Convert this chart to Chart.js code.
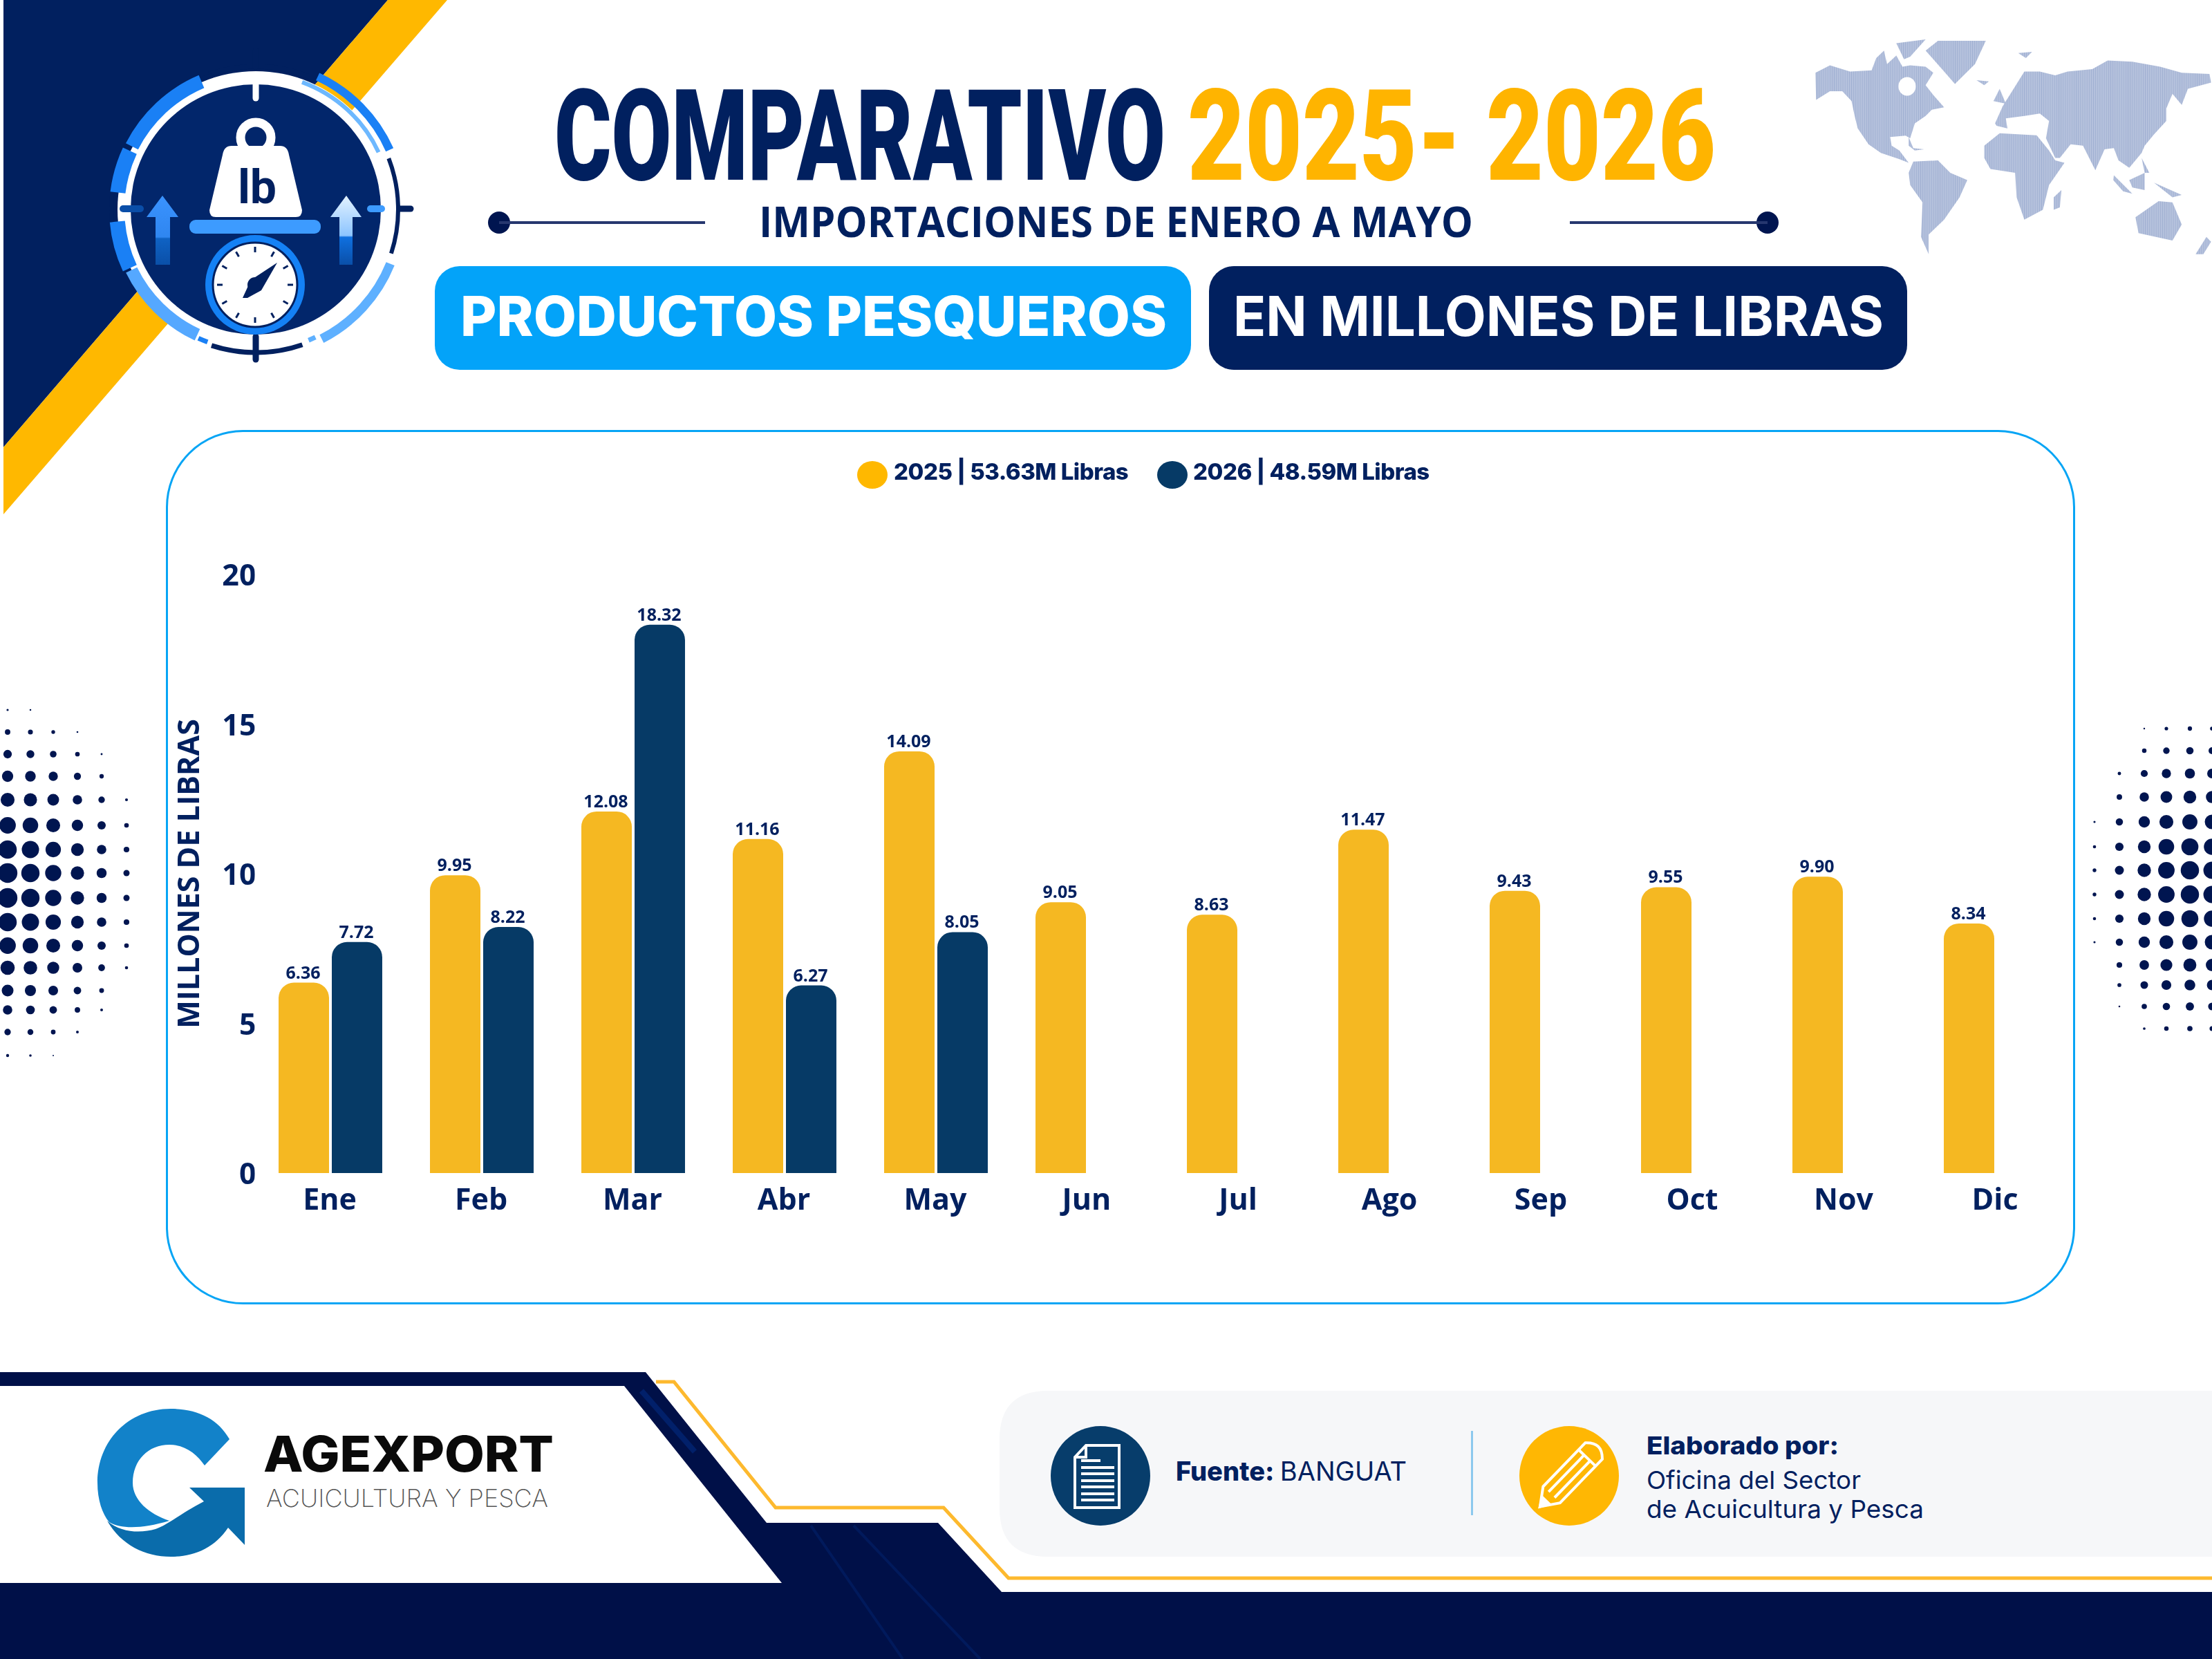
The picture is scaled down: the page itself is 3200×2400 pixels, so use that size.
<!DOCTYPE html>
<html>
<head>
<meta charset="utf-8">
<script src="https://cdn.jsdelivr.net/npm/chart.js@4"></script>
<style>
  html, body { margin: 0; padding: 0; background: #fff; }
  #page { position: relative; width: 3200px; height: 2400px; overflow: hidden; background: #fff; }
  #deco { position: absolute; left: 0; top: 0; }
  #grafica { position: absolute; left: 241px; top: 623px; }
</style>
</head>
<body>
<div id="page">
<svg id="deco" width="3200" height="2400" viewBox="0 0 3200 2400" xmlns="http://www.w3.org/2000/svg">
  <defs>
    <pattern id="rayas" width="7" height="10" patternUnits="userSpaceOnUse">
      <rect width="7" height="10" fill="#b6c2dd"/>
      <rect width="2" height="10" fill="#9fafd1"/>
    </pattern>
    <filter id="suave"><feGaussianBlur stdDeviation="1"/></filter>
    <linearGradient id="flechaIzq" x1="0" y1="0" x2="0" y2="1">
      <stop offset="0" stop-color="#3a93ff"/><stop offset=".6" stop-color="#2f86f0"/><stop offset=".62" stop-color="#0f62c4"/><stop offset="1" stop-color="#0a4fa8"/>
    </linearGradient>
    <linearGradient id="flechaDer" x1="0" y1="0" x2="0" y2="1">
      <stop offset="0" stop-color="#e3f2ff"/><stop offset=".58" stop-color="#8cc4ff"/><stop offset=".6" stop-color="#0f70e0"/><stop offset="1" stop-color="#0a4fa8"/>
    </linearGradient>
  </defs>

  <!-- esquina superior -->
  <polygon points="5,0 561,0 5,647" fill="#01205f"/>
  <polygon points="561,0 647,0 5,744 5,647" fill="#ffb800"/>

  <!-- emblema -->
  <g id="emblema"></g>

  <!-- titulo -->
  <text x="802" y="260" font-family="Roboto" font-weight="900" font-size="184" fill="#01205f" textLength="884" lengthAdjust="spacingAndGlyphs">COMPARATIVO</text>
  <text x="1718" y="260" font-family="Roboto" font-weight="900" font-size="184" fill="#ffb400" textLength="764" lengthAdjust="spacingAndGlyphs">2025- 2026</text>
  <text x="1098" y="343" font-family="Open Sans" font-weight="700" font-size="60" fill="#01205f" textLength="1033" lengthAdjust="spacingAndGlyphs">IMPORTACIONES DE ENERO A MAYO</text>
  <circle cx="722" cy="322" r="16" fill="#001550"/>
  <rect x="722" y="320" width="298" height="4" fill="#26376f"/>
  <circle cx="2557" cy="322" r="16" fill="#001550"/>
  <rect x="2271" y="320" width="286" height="4" fill="#26376f"/>

  <rect x="629" y="385" width="1094" height="150" rx="36" fill="#03a3f9"/>
  <text x="666" y="486" font-family="Inter" font-weight="800" font-size="80" fill="#fff" textLength="1022" lengthAdjust="spacingAndGlyphs">PRODUCTOS PESQUEROS</text>
  <rect x="1749" y="385" width="1010" height="150" rx="36" fill="#01205f"/>
  <text x="1784" y="486" font-family="Inter" font-weight="700" font-size="80" fill="#fff" textLength="941" lengthAdjust="spacingAndGlyphs">EN MILLONES DE LIBRAS</text>

  <!-- mapa -->
  <g transform="translate(2500,0) scale(.4464,.357)" fill="url(#rayas)" filter="url(#suave)">
    <polygon points="283,295 330,265 395,290 465,285 480,235 505,205 515,260 545,225 565,270 590,265 640,270 665,295 640,345 665,385 700,435 660,445 640,470 605,500 590,560 575,550 525,555 530,590 555,610 585,660 555,645 495,620 455,585 420,520 410,470 400,410 370,370 330,370 285,405"/>
    <polygon points="585,555 600,600 635,605 605,610 585,590"/>
    <polygon points="545,175 640,160 590,230 570,240"/>
    <polygon points="640,205 680,165 835,165 800,260 735,340 700,290"/>
    <polygon points="585,700 600,655 680,650 720,700 775,730 750,800 700,890 650,950 650,1030 625,960 630,820 590,750"/>
    <polygon points="830,590 880,540 1000,548 1040,610 1060,650 1090,660 1040,750 1020,850 960,890 935,800 930,700 850,685 830,640"/>
    <polygon points="865,500 890,430 930,350 960,290 1010,290 1060,305 1100,290 1180,280 1230,245 1310,250 1400,270 1470,295 1560,300 1565,335 1490,360 1470,425 1440,380 1420,440 1420,490 1380,545 1350,590 1340,620 1300,680 1265,650 1250,600 1220,605 1190,690 1150,590 1110,585 1075,640 1060,640 1030,560 1040,490 1010,460 960,470 900,480 905,520 870,510"/>
    <polygon points="1250,710 1310,785 1280,775 1248,730"/>
    <polygon points="1300,730 1350,700 1350,770 1310,760"/>
    <polygon points="1380,740 1470,790 1440,800"/>
    <polygon points="1320,880 1395,815 1440,820 1470,910 1440,975 1330,945"/>
    <polygon points="1515,1030 1550,960 1565,980 1540,1030"/>
    <polygon points="1340,640 1365,700 1350,700"/>
    <polygon points="860,410 880,360 900,420"/>
    <polygon points="805,325 845,330 830,345"/>
    <polygon points="940,215 985,210 965,235"/>
    <polygon points="1055,800 1080,770 1075,840 1055,850"/>
    <ellipse cx="580" cy="350" rx="28" ry="38" fill="#fff"/>
  </g>

  <g id="puntos" fill="#001550"></g>

  <!-- tarjeta -->
  <rect x="241.5" y="623.5" width="2759" height="1262" rx="110" fill="#fff" stroke="#07a5f5" stroke-width="3"/>

  <!-- pie -->
  <path d="M3200,2012 H1516 Q1446,2012 1446,2082 V2182 Q1446,2252 1516,2252 H3200 Z" fill="#f6f7f9"/>
  <polygon points="0,1985 934,1985 1109,2203 1357,2203 1449,2303 3200,2303 3200,2400 0,2400" fill="#001048"/>
  <polygon points="0,2005 903,2005 1131,2290 0,2290" fill="#fff"/>
  <line x1="928" y1="2012" x2="1005" y2="2100" stroke="#01206a" stroke-width="8"/>
  <line x1="1173" y1="2207" x2="1306" y2="2400" stroke="#011a5c" stroke-width="4"/>
  <line x1="1235" y1="2207" x2="1418" y2="2400" stroke="#011a5c" stroke-width="4"/>
  <polyline points="949,1999 975,1999 1122,2181 1365,2181 1459,2283 3200,2283" fill="none" stroke="#fdb92e" stroke-width="5"/>

  <!-- logo -->
  <path d="M332,2082 C315,2052 285,2038 247,2038 C185,2038 141,2085 141,2145 C141,2170 148,2190 158,2202 C175,2212 205,2212 245,2200 C215,2190 192,2170 192,2145 C192,2112 215,2090 245,2090 C268,2090 285,2104 296,2120 Z" fill="#1282c9"/>
  <path d="M274,2152 H354 V2235 L330,2210 C310,2240 280,2252 247,2252 C210,2252 175,2235 155,2200 C175,2218 205,2218 225,2212 C245,2205 260,2190 295,2172 Z" fill="#0a6cab"/>
  <text x="381" y="2129" font-family="Inter" font-weight="800" font-size="72" fill="#0a0a0a" textLength="420" lengthAdjust="spacingAndGlyphs">AGEXPORT</text>
  <text x="385" y="2180" font-family="Inter" font-weight="200" font-size="35" fill="#555" textLength="408" lengthAdjust="spacingAndGlyphs">ACUICULTURA Y PESCA</text>

  <!-- fuente -->
  <circle cx="1592" cy="2135" r="72" fill="#073d6b"/>
  <path d="M1571,2091 H1619 V2181 H1555 V2108 Z M1571,2091 V2108 H1555" fill="none" stroke="#fff" stroke-width="4"/>
  <g stroke="#fff" stroke-width="4">
    <line x1="1564" y1="2113" x2="1592" y2="2113"/><line x1="1564" y1="2123" x2="1612" y2="2123"/>
    <line x1="1564" y1="2132" x2="1612" y2="2132"/><line x1="1564" y1="2142" x2="1612" y2="2142"/>
    <line x1="1564" y1="2151" x2="1612" y2="2151"/><line x1="1564" y1="2161" x2="1612" y2="2161"/>
    <line x1="1564" y1="2170" x2="1612" y2="2170"/>
  </g>
  <text x="1701" y="2142" font-family="Inter" font-size="38" fill="#01205f" textLength="334" lengthAdjust="spacingAndGlyphs"><tspan font-weight="800">Fuente: </tspan><tspan font-weight="400">BANGUAT</tspan></text>
  <rect x="2128" y="2070" width="3" height="122" fill="#8cc9ee"/>
  <circle cx="2270" cy="2135" r="72" fill="#ffb703"/>
  <g transform="translate(2271,2135) rotate(44)" fill="none" stroke="#fff" stroke-width="4">
    <path d="M-17,-50 Q0,-68 17,-50 V38 L0,62 L-17,38 Z"/>
    <line x1="-17" y1="-36" x2="17" y2="-36"/><line x1="-6" y1="-36" x2="-6" y2="38"/><line x1="6" y1="-36" x2="6" y2="38"/>
    <path d="M-7,50 L0,62 L7,50 Z" fill="#fff"/>
  </g>
  <text x="2382" y="2104" font-family="Inter" font-weight="800" font-size="36" fill="#01205f" textLength="278" lengthAdjust="spacingAndGlyphs">Elaborado por:</text>
  <text x="2382" y="2154" font-family="Inter" font-weight="400" font-size="36" fill="#01205f" textLength="310" lengthAdjust="spacingAndGlyphs">Oficina del Sector</text>
  <text x="2382" y="2196" font-family="Inter" font-weight="400" font-size="36" fill="#01205f" textLength="401" lengthAdjust="spacingAndGlyphs">de Acuicultura y Pesca</text>
</svg>
<canvas id="grafica" width="2760" height="1262"></canvas>
</div>

<script>
// datos
const meses = ['Ene', 'Feb', 'Mar', 'Abr', 'May', 'Jun', 'Jul', 'Ago', 'Sep', 'Oct', 'Nov', 'Dic'];
const libras2025 = [6.36, 9.95, 12.08, 11.16, 14.09, 9.05, 8.63, 11.47, 9.43, 9.55, 9.90, 8.34];
const libras2026 = [7.72, 8.22, 18.32, 6.27, 8.05, null, null, null, null, null, null, null];
const leyenda2025 = '2025 | 53.63M Libras';
const leyenda2026 = '2026 | 48.59M Libras';
const tituloEje = 'MILLONES DE LIBRAS';

const azulTexto = '#01205f';
const amarillo = '#f5b822';
const azulBarra = '#063a66';

// --- adornos del encabezado ---
function arco(ini, fin, r, ancho, color) {
    const a = (ini - 90) * Math.PI / 180, b = (fin - 90) * Math.PI / 180;
    const x1 = 370 + r * Math.cos(a), y1 = 303 + r * Math.sin(a);
    const x2 = 370 + r * Math.cos(b), y2 = 303 + r * Math.sin(b);
    const grande = fin - ini > 180 ? 1 : 0;
    return `<path d="M${x1},${y1} A${r},${r} 0 ${grande} 1 ${x2},${y2}" fill="none" stroke="${color}" stroke-width="${ancho}"/>`;
}

let emblema = '<circle cx="370" cy="303" r="200" fill="#fff"/><circle cx="370" cy="303" r="181" fill="#02266b"/>';
emblema += arco(-19, 22, 207, 7, '#01205f');
emblema += arco(25, 66, 212, 12, '#1a80f5');
emblema += arco(20, 65, 196, 6, '#6db8ff');
emblema += arco(69, 108, 206, 6, '#01205f');
emblema += arco(112, 153, 210, 13, '#5eb0ff');
emblema += arco(155, 158, 204, 7, '#5eb0ff');
emblema += arco(161, 198, 207, 7, '#01205f');
emblema += arco(200, 204, 204, 7, '#1a80f5');
emblema += arco(205, 244, 200, 18, '#55a8ff');
emblema += arco(245, 265, 201, 22, '#1a80f5');
emblema += arco(265, 276, 209, 6, '#01205f');
emblema += arco(277, 295, 201, 22, '#1a80f5');
emblema += arco(297, 337, 201, 20, '#1a80f5');
emblema += arco(338, 342, 204, 7, '#01205f');
// marcas de la caratula
emblema += '<g stroke-linecap="round"><line x1="370" y1="74" x2="370" y2="96" stroke="#01205f" stroke-width="9"/><line x1="370" y1="122" x2="370" y2="142" stroke="#fff" stroke-width="9"/>'
    + '<line x1="370" y1="487" x2="370" y2="520" stroke="#01205f" stroke-width="9"/>'
    + '<line x1="178" y1="302" x2="203" y2="302" stroke="#0a4ea8" stroke-width="10"/>'
    + '<line x1="536" y1="302" x2="552" y2="302" stroke="#3d9bff" stroke-width="10"/><line x1="578" y1="302" x2="594" y2="302" stroke="#01205f" stroke-width="9"/></g>';
// pesa
emblema += '<circle cx="370" cy="199" r="22" fill="none" stroke="#fff" stroke-width="13"/>'
    + '<path d="M335,211 H405 Q416,211 418,224 L437,304 Q437,314 428,314 H312 Q303,314 303,304 L322,224 Q324,211 335,211 Z" fill="#fff"/>'
    + '<text x="372" y="294" text-anchor="middle" font-family="Roboto" font-weight="700" font-size="68" fill="#01205f">lb</text>'
    + '<rect x="274" y="318" width="190" height="20" rx="9" fill="#3d9bff"/>';
// flechas
emblema += '<path d="M235,283 L258,314 H246 V383 H225 V314 H212 Z" fill="url(#flechaIzq)"/>'
    + '<path d="M501,283 L523,314 H510 V383 H491 V314 H478 Z" fill="url(#flechaDer)"/>';
// reloj
emblema += '<circle cx="369" cy="412" r="72" fill="#1481f5"/><circle cx="369" cy="412" r="61" fill="#fff" stroke="#01205f" stroke-width="3"/>';
for (let i = 0; i < 12; i++) {
    const t = i * Math.PI / 6;
    emblema += `<line x1="${369 + 47 * Math.sin(t)}" y1="${412 - 47 * Math.cos(t)}" x2="${369 + 55 * Math.sin(t)}" y2="${412 - 55 * Math.cos(t)}" stroke="#01205f" stroke-width="3"/>`;
}
emblema += '<path d="M401,380 L378,420 L358,431 L351,431 L363,405 Z" fill="#01205f"/><circle cx="369" cy="412" r="11" fill="#01205f"/>';
document.getElementById('emblema').innerHTML = emblema;

// semitono de los lados
let puntos = '';
const colsIzq = [11, 44, 77, 112, 147, 183];
const filasIzq = [1027, 1059, 1091, 1123, 1157, 1194, 1229, 1263, 1299, 1334, 1368, 1400, 1433, 1461, 1493, 1527];
colsIzq.forEach(x => filasIzq.forEach(y => {
    const r = 14.5 * (1 - Math.pow(Math.hypot(x / 235, (y - 1281) / 275), 1.5));
    if (r > 1) puntos += `<circle cx="${x}" cy="${y}" r="${r}"/>`;
}));
const colsDer = [3030, 3066, 3102, 3134, 3168, 3200];
const filasDer = [1054, 1086, 1119, 1153, 1189, 1225, 1259, 1294, 1329, 1363, 1396, 1425, 1456, 1488];
colsDer.forEach(x => filasDer.forEach(y => {
    const r = 13.5 * (1 - Math.pow(Math.hypot((x - 3172) / 165, (y - 1276) / 265), 1.5));
    if (r > 1) puntos += `<circle cx="${x}" cy="${y}" r="${r}"/>`;
}));
document.getElementById('puntos').innerHTML = puntos;

// --- grafica ---
// etiquetas encima de cada barra
const etiquetasBarras = {
    id: 'etiquetasBarras',
    afterDatasetsDraw(chart) {
        const ctx = chart.ctx;
        ctx.save();
        ctx.font = '700 25px "Open Sans"';
        ctx.fillStyle = azulTexto;
        ctx.textAlign = 'center';
        ctx.textBaseline = 'alphabetic';
        chart.data.datasets.forEach((ds, i) => {
            chart.getDatasetMeta(i).data.forEach((bar, j) => {
                if (ds.data[j] === null) return;
                ctx.fillText(ds.data[j].toFixed(2), bar.x - 1, bar.y - 6);
            });
        });
        ctx.restore();
    }
};

// leyenda propia, el circulo queda pegado al texto
const leyendaArriba = {
    id: 'leyendaArriba',
    afterDraw(chart) {
        const ctx = chart.ctx;
        const inicio = [[1021, 1052], [1455, 1485]];
        ctx.save();
        ctx.font = '800 33px Inter';
        ctx.letterSpacing = '-0.5px';
        ctx.textBaseline = 'alphabetic';
        chart.data.datasets.forEach((ds, i) => {
            ctx.fillStyle = i === 0 ? '#ffb800' : azulBarra;
            ctx.beginPath();
            ctx.ellipse(inicio[i][0], 64, 22, 20, 0, 0, Math.PI * 2);
            ctx.fill();
            ctx.fillStyle = azulTexto;
            ctx.fillText(ds.label, inicio[i][1], 71);
        });
        ctx.restore();
    }
};

new Chart(document.getElementById('grafica'), {
    type: 'bar',
    data: {
        labels: meses,
        datasets: [
            { label: leyenda2025, data: libras2025, backgroundColor: amarillo },
            { label: leyenda2026, data: libras2026, backgroundColor: azulBarra }
        ]
    },
    options: {
        responsive: false,
        animation: false,
        categoryPercentage: 0.703,
        barPercentage: 0.948,
        layout: { padding: { top: 208, right: 4.5, left: 0, bottom: 0 } },
        elements: {
            bar: {
                borderRadius: { topLeft: 22, topRight: 22, bottomLeft: 0, bottomRight: 0 },
                borderSkipped: false
            }
        },
        plugins: {
            legend: { display: false },
            tooltip: { enabled: false }
        },
        scales: {
            x: {
                grid: { display: false, drawTicks: false },
                border: { display: false },
                ticks: {
                    color: azulTexto,
                    font: { family: 'Open Sans', weight: '700', size: 43 },
                    padding: 15,
                    labelOffset: -1,
                    maxRotation: 0,
                    autoSkip: false
                },
                afterFit(scale) { scale.height = 188; }
            },
            y: {
                min: 0,
                max: 20,
                grid: { display: false, drawTicks: false },
                border: { display: false },
                ticks: {
                    stepSize: 5,
                    color: azulTexto,
                    font: { family: 'Open Sans', weight: '700', size: 43 },
                    padding: -2,
                    labelOffset: 4
                },
                title: {
                    display: true,
                    text: tituloEje,
                    color: azulTexto,
                    font: { family: 'Open Sans', weight: '700', size: 43 },
                    padding: { top: 9, bottom: 0 }
                },
                afterFit(scale) { scale.width = 127.5; }
            }
        }
    },
    plugins: [etiquetasBarras, leyendaArriba]
});
</script>
</body>
</html>
